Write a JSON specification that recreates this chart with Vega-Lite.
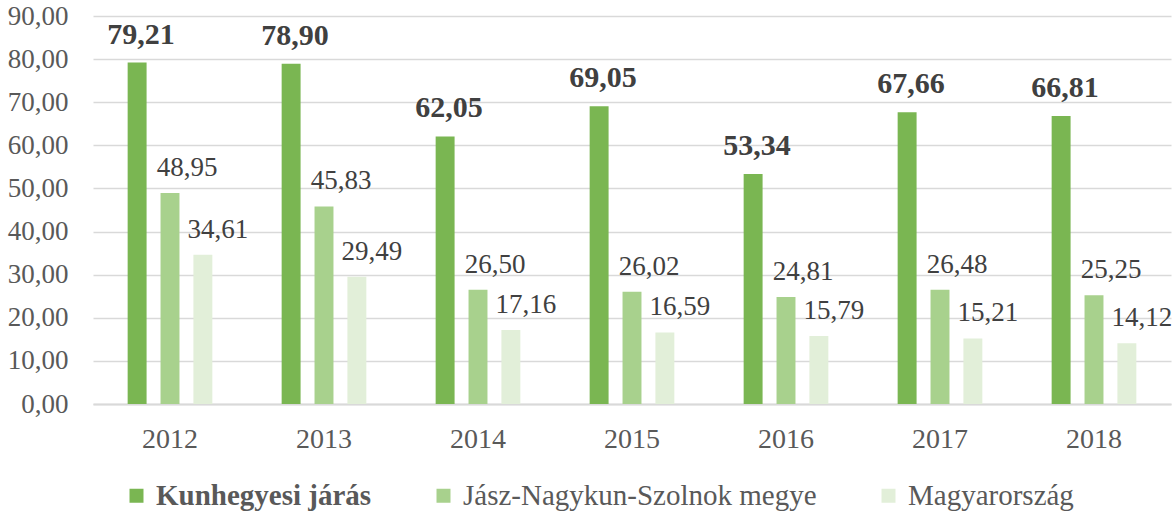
{
  "$schema": "https://vega.github.io/schema/vega-lite/v6.json",
  "autosize": "none",
  "width": 1078,
  "height": 388,
  "padding": {"left": 93, "top": 16, "right": 2, "bottom": 108},
  "background": "#ffffff",
  "config": {
    "font": "Liberation Serif",
    "view": {"stroke": null},
    "locale": {"number": {"decimal": ",", "thousands": " ", "grouping": [3], "currency": ["", " Ft"]}}
  },
  "data": {
    "values": [
      {"year": "2012", "series": "Kunhegyesi járás", "value": 79.21},
      {"year": "2012", "series": "Jász-Nagykun-Szolnok megye", "value": 48.95},
      {"year": "2012", "series": "Magyarország", "value": 34.61},
      {"year": "2013", "series": "Kunhegyesi járás", "value": 78.90},
      {"year": "2013", "series": "Jász-Nagykun-Szolnok megye", "value": 45.83},
      {"year": "2013", "series": "Magyarország", "value": 29.49},
      {"year": "2014", "series": "Kunhegyesi járás", "value": 62.05},
      {"year": "2014", "series": "Jász-Nagykun-Szolnok megye", "value": 26.50},
      {"year": "2014", "series": "Magyarország", "value": 17.16},
      {"year": "2015", "series": "Kunhegyesi járás", "value": 69.05},
      {"year": "2015", "series": "Jász-Nagykun-Szolnok megye", "value": 26.02},
      {"year": "2015", "series": "Magyarország", "value": 16.59},
      {"year": "2016", "series": "Kunhegyesi járás", "value": 53.34},
      {"year": "2016", "series": "Jász-Nagykun-Szolnok megye", "value": 24.81},
      {"year": "2016", "series": "Magyarország", "value": 15.79},
      {"year": "2017", "series": "Kunhegyesi járás", "value": 67.66},
      {"year": "2017", "series": "Jász-Nagykun-Szolnok megye", "value": 26.48},
      {"year": "2017", "series": "Magyarország", "value": 15.21},
      {"year": "2018", "series": "Kunhegyesi járás", "value": 66.81},
      {"year": "2018", "series": "Jász-Nagykun-Szolnok megye", "value": 25.25},
      {"year": "2018", "series": "Magyarország", "value": 14.12}
    ]
  },
  "encoding": {
    "x": {
      "field": "year", "type": "nominal",
      "scale": {"paddingInner": 0.45, "paddingOuter": 0.225},
      "axis": {
        "title": null, "labelAngle": 0, "labelFontSize": 28, "labelColor": "#595959",
        "labelPadding": 21, "ticks": false, "domainColor": "#d9d9d9", "domainWidth": 2
      }
    },
    "xOffset": {
      "field": "series", "type": "nominal",
      "sort": ["Kunhegyesi járás", "Jász-Nagykun-Szolnok megye", "Magyarország"],
      "scale": {"paddingInner": 0.424, "paddingOuter": 0}
    },
    "y": {
      "field": "value", "type": "quantitative",
      "scale": {"domain": [0, 90], "nice": false},
      "axis": {
        "title": null, "values": [0, 10, 20, 30, 40, 50, 60, 70, 80, 90], "format": ".2f",
        "labelFontSize": 27, "labelColor": "#595959", "labelPadding": 25,
        "domain": false, "ticks": false, "gridColor": "#d9d9d9", "gridWidth": 1.5
      }
    }
  },
  "layer": [
    {
      "mark": {"type": "bar"},
      "encoding": {
        "color": {
          "field": "series", "type": "nominal",
          "sort": ["Kunhegyesi járás", "Jász-Nagykun-Szolnok megye", "Magyarország"],
          "scale": {
            "domain": ["Kunhegyesi járás", "Jász-Nagykun-Szolnok megye", "Magyarország"],
            "range": ["#7AB652", "#A8D18D", "#E2EFD9"]
          },
          "legend": {
            "title": null, "orient": "none", "direction": "horizontal",
            "legendX": 29, "legendY": 465, "padding": 0,
            "symbolType": "square", "symbolSize": 196, "symbolStrokeWidth": 0,
            "labelFontSize": 29, "labelColor": "#595959", "labelOffset": 5,
            "columnPadding": 57, "labelLimit": 600,
            "encode": {
              "labels": {
                "update": {
                  "fontWeight": {"signal": "datum.value === 'Kunhegyesi járás' ? 'bold' : 'normal'"}
                }
              }
            }
          }
        }
      }
    },
    {
      "transform": [{"filter": "datum.series === 'Kunhegyesi járás'"}],
      "mark": {"type": "text", "baseline": "alphabetic", "dy": -19, "dx": 4, "fontSize": 30, "fontWeight": "bold", "color": "#404040"},
      "encoding": {"text": {"field": "value", "type": "quantitative", "format": ".2f"}}
    },
    {
      "transform": [{"filter": "datum.series === 'Jász-Nagykun-Szolnok megye'"}],
      "mark": {"type": "text", "baseline": "alphabetic", "dy": -17, "dx": 17, "fontSize": 27, "color": "#404040"},
      "encoding": {"text": {"field": "value", "type": "quantitative", "format": ".2f"}}
    },
    {
      "transform": [{"filter": "datum.series === 'Magyarország'"}],
      "mark": {"type": "text", "baseline": "alphabetic", "dy": -17, "dx": 15, "fontSize": 27, "color": "#404040"},
      "encoding": {"text": {"field": "value", "type": "quantitative", "format": ".2f"}}
    }
  ]
}
